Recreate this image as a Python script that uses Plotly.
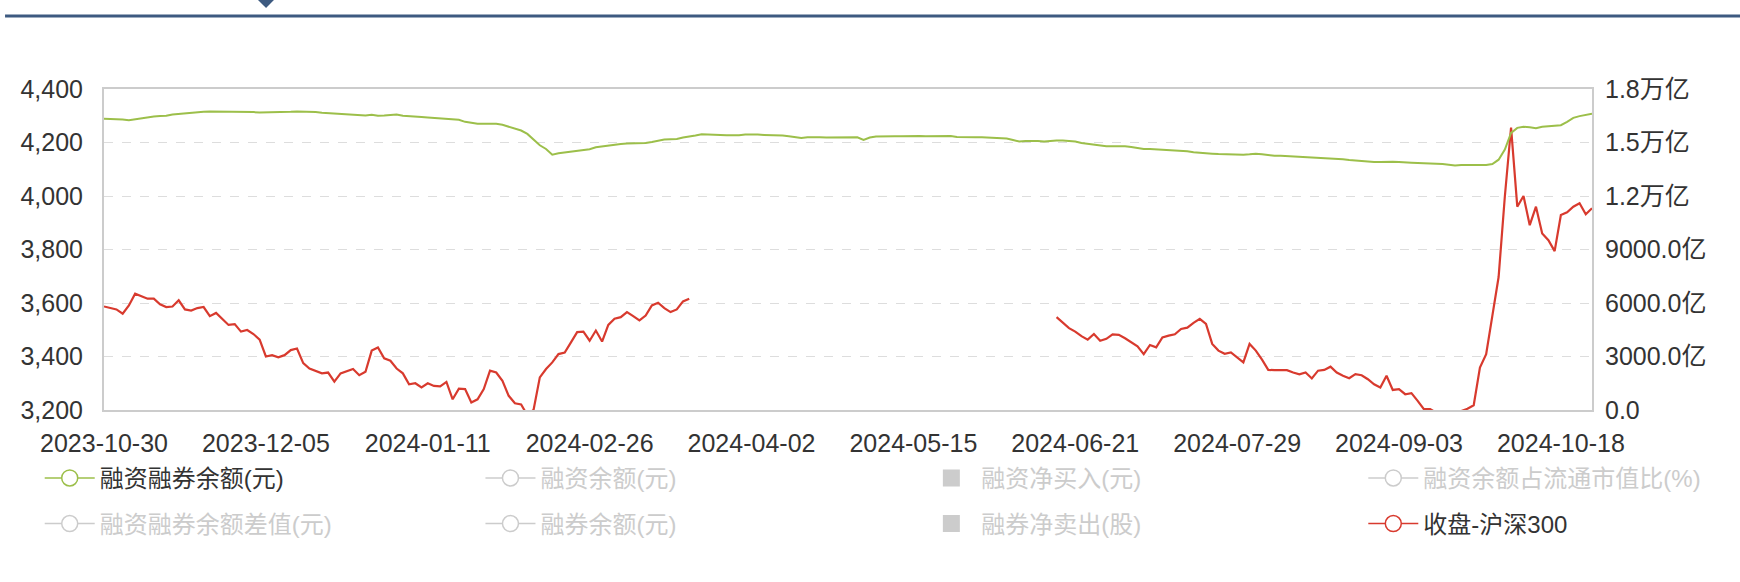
import pandas as pd
import plotly.graph_objects as go

# trading days shown on the category axis
holidays = ['2024-01-01', '2024-02-09', '2024-02-12', '2024-02-13', '2024-02-14',
            '2024-02-15', '2024-02-16', '2024-04-04', '2024-04-05', '2024-05-01',
            '2024-05-02', '2024-05-03', '2024-06-10', '2024-09-16', '2024-09-17',
            '2024-10-01', '2024-10-02', '2024-10-03', '2024-10-04', '2024-10-07']
dates = [d.strftime('%Y-%m-%d') for d in pd.bdate_range('2023-10-30', '2024-10-25')
         if d.strftime('%Y-%m-%d') not in holidays]

x_ticks = ['2023-10-30', '2023-12-05', '2024-01-11', '2024-02-26', '2024-04-02',
           '2024-05-15', '2024-06-21', '2024-07-29', '2024-09-03', '2024-10-18']

# 融资融券余额, 亿元 (right axis)
margin_balance = [
    16329, 16329, 16310, 16291, 16253, 16310, 16366, 16423, 16460, 16479,
    16498, 16573, 16611, 16629, 16648, 16704, 16723, 16742, 16742, 16723,
    16704, 16704, 16723, 16704, 16704, 16686, 16686, 16704, 16686, 16686,
    16723, 16742, 16742, 16723, 16704, 16667, 16648, 16629, 16611, 16554,
    16535, 16516, 16516, 16554, 16498, 16516, 16554, 16573, 16498, 16460,
    16441, 16423, 16404, 16385, 16366, 16347, 16329, 16272, 16159, 16084,
    16047, 16047, 16066, 16047, 15990, 15897, 15802, 15671, 15483, 15164,
    14844, 14637, 14318, 14393, 14431, 14487, 14525, 14581, 14619, 14731,
    14788, 14825, 14863, 14919, 14938, 14938, 14957, 14976, 15032, 15107,
    15164, 15182, 15201, 15276, 15314, 15389, 15464, 15464, 15446, 15427,
    15408, 15389, 15408, 15446, 15464, 15446, 15427, 15427, 15408, 15389,
    15351, 15295, 15258, 15295, 15314, 15295, 15276, 15276, 15258, 15258,
    15258, 15295, 15145, 15276, 15333, 15351, 15351, 15351, 15351, 15370,
    15370, 15370, 15351, 15351, 15389, 15389, 15370, 15314, 15295, 15295,
    15295, 15295, 15276, 15258, 15239, 15220, 15145, 15051, 15088, 15107,
    15088, 15051, 15088, 15107, 15107, 15088, 15051, 14976, 14919, 14882,
    14844, 14788, 14788, 14807, 14788, 14750, 14694, 14637, 14637, 14619,
    14600, 14581, 14544, 14525, 14506, 14450, 14412, 14393, 14374, 14356,
    14337, 14318, 14299, 14318, 14337, 14374, 14337, 14280, 14262, 14262,
    14243, 14224, 14205, 14205, 14187, 14168, 14149, 14130, 14093, 14055,
    14017, 13980, 13942, 13923, 13905, 13905, 13923, 13923, 13905, 13905,
    13867, 13848, 13848, 13830, 13811, 13792, 13754, 13717, 13736, 13736,
    13717, 13717, 13736, 13792, 14036, 14600, 15539, 15821, 15878, 15859,
    15802, 15878, 15897, 15915, 15972, 16159, 16385, 16479, 16535, 16611,
]

# 收盘-沪深300 (left axis); the middle stretch is not visible in the source
hs300_close = [
    3587, 3581, 3576, 3560, 3591, 3635, 3625, 3616, 3616, 3595,
    3585, 3587, 3610, 3576, 3572, 3581, 3585, 3551, 3563, 3541,
    3518, 3521, 3493, 3499, 3484, 3463, 3400, 3405, 3397, 3405,
    3424, 3430, 3375, 3355, 3347, 3337, 3340, 3306, 3337, 3344,
    3353, 3330, 3343, 3422, 3434, 3393, 3384, 3355, 3337, 3296,
    3300, 3284, 3300, 3290, 3288, 3305, 3240, 3280, 3278, 3228,
    3240, 3278, 3347, 3340, 3309, 3253, 3225, 3221, 3180, 3201,
    3322, 3353, 3378, 3409, 3415, 3453, 3491, 3493, 3459, 3497,
    3456, 3518, 3541, 3547, 3566, 3551, 3535, 3553, 3591, 3601,
    3581, 3566, 3576, 3606, 3616,
] + [None] * 58 + [
    3547, 3526, 3506, 3493, 3476, 3463, 3484, 3459, 3466, 3483,
    3481, 3468, 3453, 3438, 3409, 3443, 3434, 3471, 3478, 3483,
    3503, 3508, 3526, 3541, 3522, 3447, 3422, 3410, 3415, 3397,
    3378, 3447, 3422, 3388, 3350, 3349, 3349, 3349, 3340, 3333,
    3340, 3318, 3347, 3350, 3362, 3340, 3328, 3319, 3334, 3330,
    3315, 3296, 3284, 3328, 3275, 3278, 3259, 3263, 3234, 3203,
    3203, 3190, 3172, 3159, 3171, 3196, 3205, 3218, 3359, 3409,
    3553, 3697, 3998, 4256, 3960, 4000, 3891, 3960, 3860, 3835,
    3794, 3929, 3939, 3960, 3973, 3932, 3954,
]

left_ticks = [3200, 3400, 3600, 3800, 4000, 4200, 4400]
right_ticks = [0, 3000, 6000, 9000, 12000, 15000, 18000]
right_labels = ['0.0', '3000.0亿', '6000.0亿', '9000.0亿', '1.2万亿', '1.5万亿', '1.8万亿']

legend_names = ['融资融券余额(元)', '融资余额(元)', '融资净买入(元)', '融资余额占流通市值比(%)',
                '融资融券余额差值(元)', '融券余额(元)', '融券净卖出(股)', '收盘-沪深300']
legend_kind = ['line', 'line', 'bar', 'line', 'line', 'line', 'bar', 'line']

GREEN = '#9cbf4a'
RED = '#d83a2e'
GREY = '#cccccc'
FONT = 'Liberation Sans, Noto Sans CJK SC, sans-serif'

fig = go.Figure()

fig.add_trace(go.Scatter(x=dates, y=margin_balance, yaxis='y2', mode='lines',
                         line=dict(color=GREEN, width=2), showlegend=False,
                         hoverinfo='skip'))
fig.add_trace(go.Scatter(x=dates, y=hs300_close, mode='lines',
                         line=dict(color=RED, width=2.2), showlegend=False,
                         hoverinfo='skip'))

# legend entries, one small legend per slot (4 columns x 2 rows)
col_x = [-0.0432, 0.2530, 0.5493, 0.8463]
row_y = [-0.213, -0.355]
colours = {'融资融券余额(元)': GREEN, '收盘-沪深300': RED}
for k, (name, kind) in enumerate(zip(legend_names, legend_kind)):
    lg = 'legend' if k == 0 else 'legend%d' % (k + 1)
    c = colours.get(name, GREY)
    if kind == 'bar':
        fig.add_trace(go.Bar(x=[None], y=[None], name=name, legend=lg,
                             marker=dict(color=GREY, line=dict(color=GREY, width=5))))
    else:
        fig.add_trace(go.Scatter(x=[None], y=[None], name=name, legend=lg,
                                 mode='lines+markers',
                                 line=dict(color=c, width=1.5),
                                 marker=dict(symbol='circle', size=16, color='white',
                                             line=dict(color=c, width=1.5))))
    fig.update_layout({lg: dict(
        x=col_x[k % 4], y=row_y[k // 4], xanchor='left', yanchor='middle',
        orientation='v', itemwidth=50, bgcolor='rgba(0,0,0,0)',
        font=dict(family=FONT, size=24, color='#333' if name in colours else GREY),
        itemclick=False, itemdoubleclick=False)})

fig.update_layout(
    width=1740, height=582,
    margin=dict(l=104, r=148, t=89, b=172),
    paper_bgcolor='white', plot_bgcolor='white',
    font=dict(family=FONT, size=25, color='#333'),
    hovermode=False,
    xaxis=dict(type='category', categoryorder='array', categoryarray=dates,
               range=[0, len(dates) - 1], tickvals=x_ticks, ticktext=x_ticks,
               showgrid=False, ticks='', showline=True, mirror=True,
               linecolor='#cccccc', linewidth=2, ticklabelstandoff=10,
               zeroline=False),
    yaxis=dict(range=[3200, 4400], tickvals=left_ticks, tickformat=',d',
               showgrid=True, gridcolor='#dddddd', griddash='dash', gridwidth=1,
               showline=True, mirror=True, linecolor='#cccccc', linewidth=2,
               ticks='', zeroline=False, ticklabelstandoff=14),
    yaxis2=dict(range=[0, 18000], tickvals=right_ticks, ticktext=right_labels,
                overlaying='y', side='right', showgrid=False, zeroline=False,
                ticks='', ticklabelstandoff=12),
    shapes=[
        # tab bar rule and its small pointer above the chart
        dict(type='line', xref='paper', yref='paper', x0=-0.0665, x1=1.0995,
             y0=1.2274, y1=1.2274, line=dict(color='#3d5a80', width=3)),
        dict(type='path', xref='paper', yref='paper',
             path='M 0.1035 1.2773 L 0.1142 1.2773 L 0.1089 1.2523 Z',
             fillcolor='#3d5a80', line=dict(width=0)),
    ],
)

# drop the default body margin so the figure sits at the page corner
fig.write_html('out.html', config={'displayModeBar': False},
               post_script="document.body.style.margin='0';")
